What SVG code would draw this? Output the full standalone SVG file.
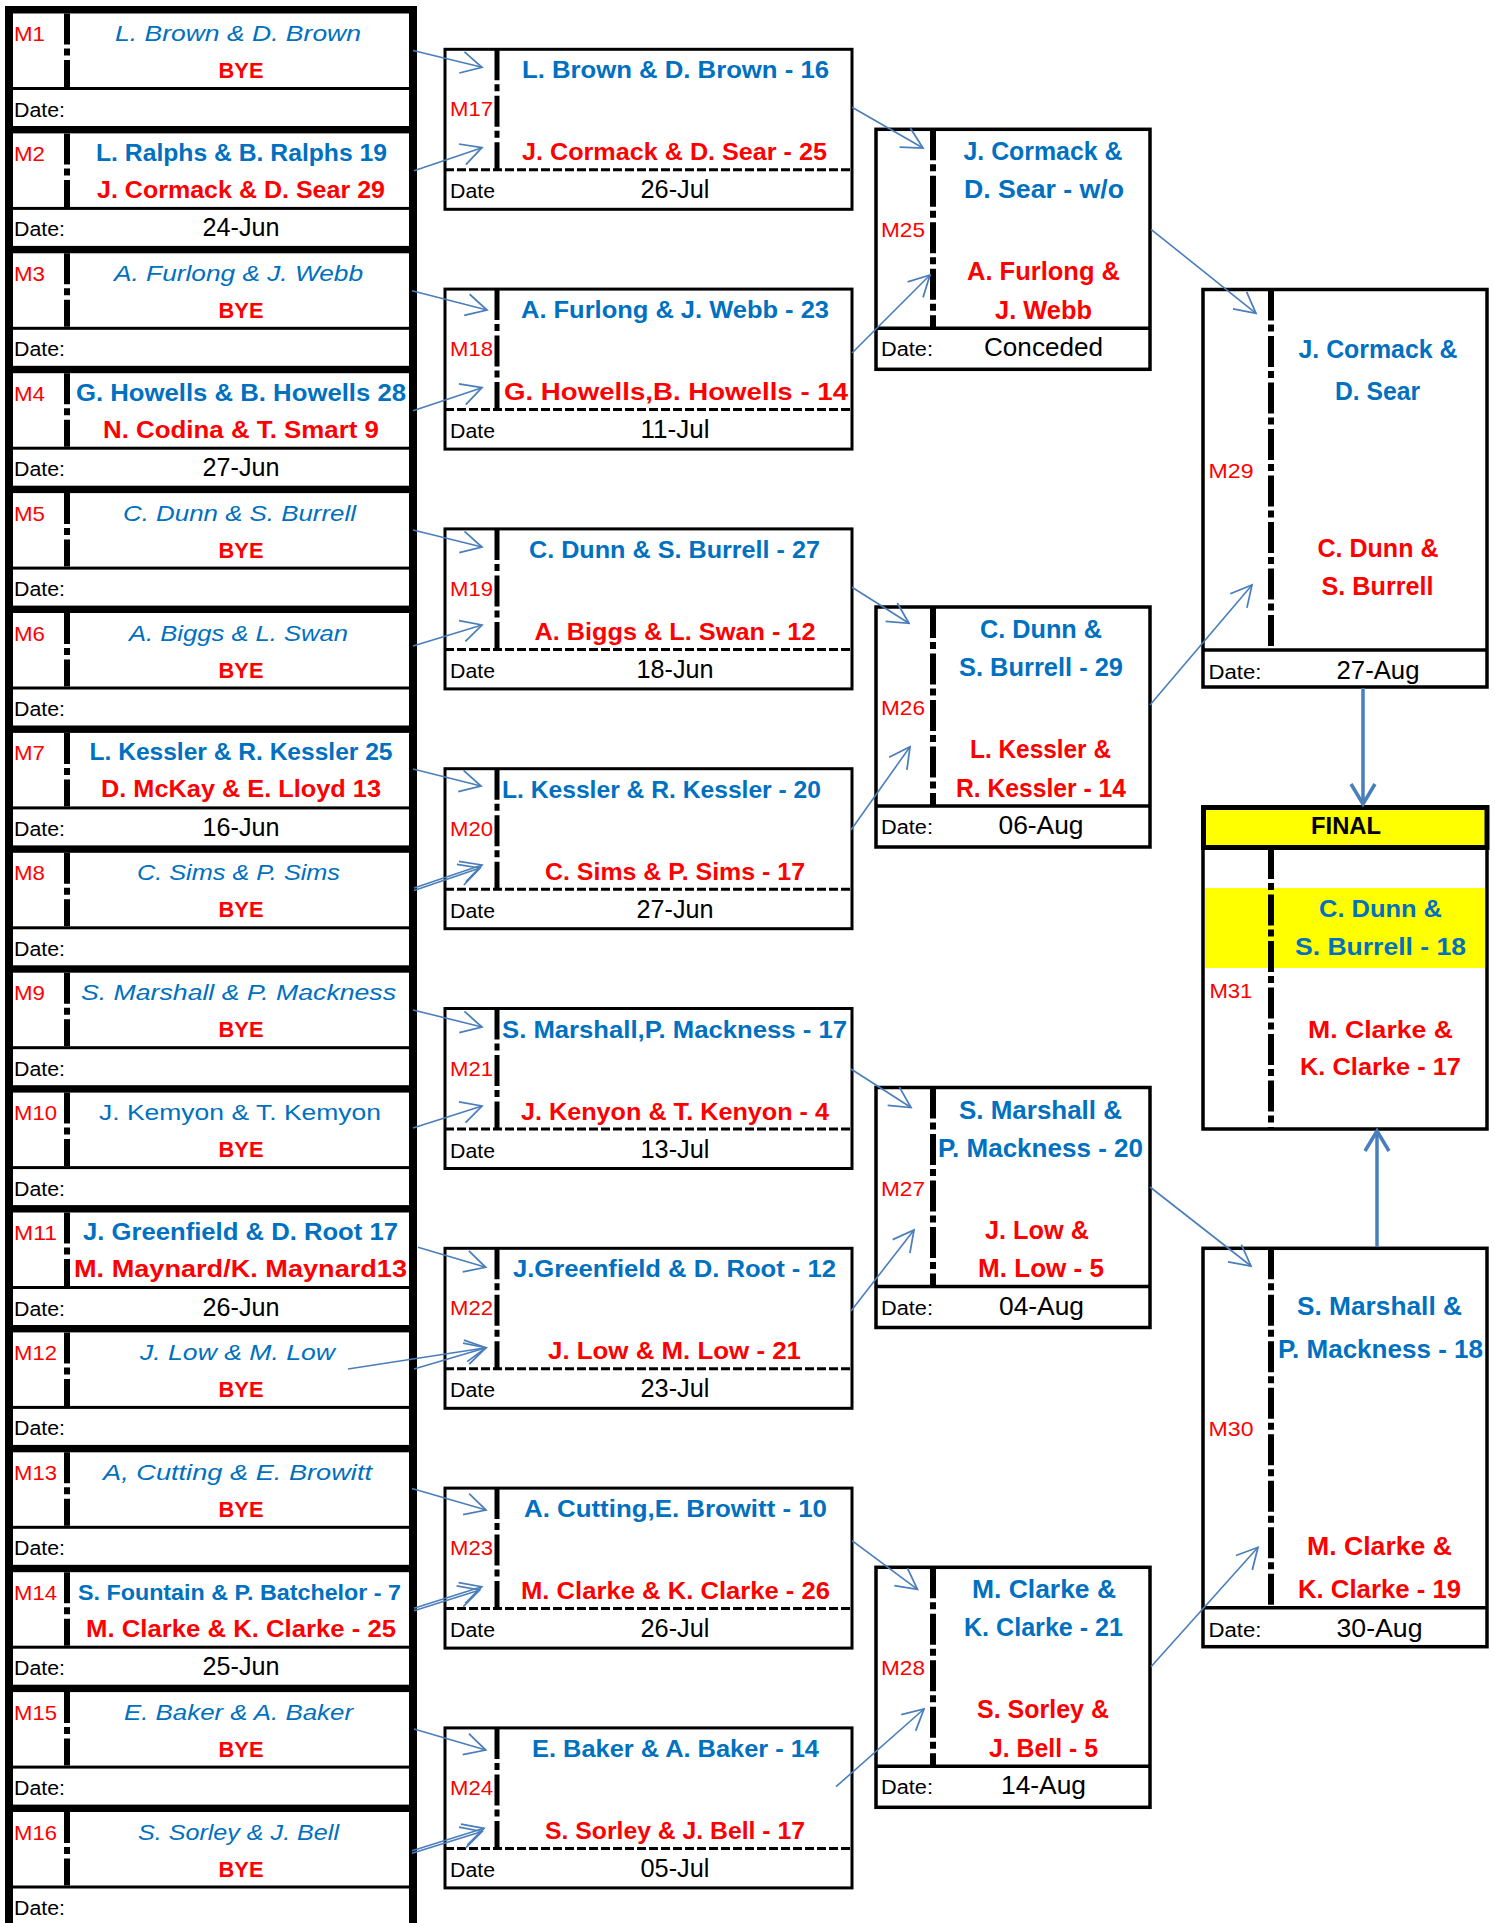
<svg xmlns="http://www.w3.org/2000/svg" width="1495" height="1923" viewBox="0 0 1495 1923">
<style>
text{font-family:"Liberation Sans",Arial,sans-serif}
.lbl{font-size:21px;fill:#FF0000}
.it{font-size:22.5px;font-style:italic;fill:#0070C0}
.nb{font-size:22.5px;fill:#0070C0}
.bb{font-size:24px;font-weight:bold;fill:#0070C0}
.br{font-size:24px;font-weight:bold;fill:#FF0000}
.bye{font-size:22px;font-weight:bold;fill:#FF0000}
.bb3{font-size:26.5px;font-weight:bold;fill:#0070C0}
.br3{font-size:26.5px;font-weight:bold;fill:#FF0000}
.bb4{font-size:25px;font-weight:bold;fill:#0070C0}
.br4{font-size:25px;font-weight:bold;fill:#FF0000}
.fin{font-size:23px;font-weight:bold;fill:#000}
.dl{font-size:19.5px;fill:#000}
.dl3{font-size:20px;fill:#000}
.dv{font-size:25px;fill:#000}
.m{text-anchor:middle}
.cell{fill:#fff}
.dd{stroke:#000;stroke-width:6;stroke-dasharray:31 4 7 4.5;fill:none}
.dd2{stroke:#000;stroke-width:5;stroke-dasharray:31 4 7 4.5;fill:none}
.box{fill:#fff;stroke:#000;stroke-width:3}
.box3{fill:#fff;stroke:#000;stroke-width:3.5}
.sep{stroke:#000;stroke-width:3.5}
.dash{stroke:#000;stroke-width:3;stroke-dasharray:9 3}
.c{stroke:#4A7EBB;stroke-width:1.6;fill:none;marker-end:url(#ah)}
.ct{stroke:#4A7EBB;stroke-width:3.5;fill:none;marker-end:url(#ahT)}
</style>
<defs>
<marker id="ah" markerUnits="userSpaceOnUse" markerWidth="24" markerHeight="24" viewBox="0 0 22 22" refX="20" refY="11" orient="auto"><path d="M1,1 L20,11 L1,21" fill="none" stroke="#4A7EBB" stroke-width="1.6"/></marker>
<marker id="ahT" markerUnits="userSpaceOnUse" markerWidth="30" markerHeight="30" viewBox="0 0 26 30" refX="23" refY="15" orient="auto"><path d="M3,3 L23,15 L3,27" fill="none" stroke="#4A7EBB" stroke-width="3.5"/></marker>
</defs>
<rect width="1495" height="1923" fill="#fff"/>

<g id="round1-frame"><rect x="5" y="6" width="412" height="1920" fill="#000"/></g>

<g id="m1">
<rect class="cell" x="13" y="13.5" width="396" height="73.5"/><rect class="cell" x="13" y="90" width="396" height="36"/>
<line class="dd" x1="67" y1="13.5" x2="67" y2="87"/>
<text class="lbl" x="14" y="41" textLength="31" lengthAdjust="spacingAndGlyphs">M1</text>
<text class="it m" x="238" y="41" textLength="246" lengthAdjust="spacingAndGlyphs">L. Brown &amp; D. Brown</text>
<text class="bye m" x="241" y="78" textLength="45" lengthAdjust="spacingAndGlyphs">BYE</text>
<text class="dl" x="14" y="116.5" textLength="51" lengthAdjust="spacingAndGlyphs">Date:</text>
</g>
<g id="m2">
<rect class="cell" x="13" y="133.4" width="396" height="73.5"/><rect class="cell" x="13" y="209.9" width="396" height="36"/>
<line class="dd" x1="67" y1="133.4" x2="67" y2="206.9"/>
<text class="lbl" x="14" y="160.9" textLength="31" lengthAdjust="spacingAndGlyphs">M2</text>
<text class="bb m" x="241.5" y="160.9" textLength="291" lengthAdjust="spacingAndGlyphs">L. Ralphs &amp; B. Ralphs 19</text>
<text class="br m" x="241" y="197.9" textLength="288" lengthAdjust="spacingAndGlyphs">J. Cormack &amp; D. Sear 29</text>
<text class="dl" x="14" y="236.4" textLength="51" lengthAdjust="spacingAndGlyphs">Date:</text>
<text class="dv m" x="241" y="236.4" textLength="77" lengthAdjust="spacingAndGlyphs">24-Jun</text>
</g>
<g id="m3">
<rect class="cell" x="13" y="253.3" width="396" height="73.5"/><rect class="cell" x="13" y="329.8" width="396" height="36"/>
<line class="dd" x1="67" y1="253.3" x2="67" y2="326.8"/>
<text class="lbl" x="14" y="280.8" textLength="31" lengthAdjust="spacingAndGlyphs">M3</text>
<text class="it m" x="238.5" y="280.8" textLength="249" lengthAdjust="spacingAndGlyphs">A. Furlong &amp; J. Webb</text>
<text class="bye m" x="241" y="317.8" textLength="45" lengthAdjust="spacingAndGlyphs">BYE</text>
<text class="dl" x="14" y="356.3" textLength="51" lengthAdjust="spacingAndGlyphs">Date:</text>
</g>
<g id="m4">
<rect class="cell" x="13" y="373.2" width="396" height="73.5"/><rect class="cell" x="13" y="449.7" width="396" height="36"/>
<line class="dd" x1="67" y1="373.2" x2="67" y2="446.7"/>
<text class="lbl" x="14" y="400.7" textLength="31" lengthAdjust="spacingAndGlyphs">M4</text>
<text class="bb m" x="241" y="400.7" textLength="330" lengthAdjust="spacingAndGlyphs">G. Howells &amp; B. Howells 28</text>
<text class="br m" x="241" y="437.7" textLength="276" lengthAdjust="spacingAndGlyphs">N. Codina &amp; T. Smart 9</text>
<text class="dl" x="14" y="476.2" textLength="51" lengthAdjust="spacingAndGlyphs">Date:</text>
<text class="dv m" x="241" y="476.2" textLength="77" lengthAdjust="spacingAndGlyphs">27-Jun</text>
</g>
<g id="m5">
<rect class="cell" x="13" y="493.1" width="396" height="73.5"/><rect class="cell" x="13" y="569.6" width="396" height="36"/>
<line class="dd" x1="67" y1="493.1" x2="67" y2="566.6"/>
<text class="lbl" x="14" y="520.6" textLength="31" lengthAdjust="spacingAndGlyphs">M5</text>
<text class="it m" x="239.5" y="520.6" textLength="233" lengthAdjust="spacingAndGlyphs">C. Dunn &amp; S. Burrell</text>
<text class="bye m" x="241" y="557.6" textLength="45" lengthAdjust="spacingAndGlyphs">BYE</text>
<text class="dl" x="14" y="596.1" textLength="51" lengthAdjust="spacingAndGlyphs">Date:</text>
</g>
<g id="m6">
<rect class="cell" x="13" y="613" width="396" height="73.5"/><rect class="cell" x="13" y="689.5" width="396" height="36"/>
<line class="dd" x1="67" y1="613" x2="67" y2="686.5"/>
<text class="lbl" x="14" y="640.5" textLength="31" lengthAdjust="spacingAndGlyphs">M6</text>
<text class="it m" x="238.5" y="640.5" textLength="219" lengthAdjust="spacingAndGlyphs">A. Biggs &amp; L. Swan</text>
<text class="bye m" x="241" y="677.5" textLength="45" lengthAdjust="spacingAndGlyphs">BYE</text>
<text class="dl" x="14" y="716" textLength="51" lengthAdjust="spacingAndGlyphs">Date:</text>
</g>
<g id="m7">
<rect class="cell" x="13" y="732.9" width="396" height="73.5"/><rect class="cell" x="13" y="809.4" width="396" height="36"/>
<line class="dd" x1="67" y1="732.9" x2="67" y2="806.4"/>
<text class="lbl" x="14" y="760.4" textLength="31" lengthAdjust="spacingAndGlyphs">M7</text>
<text class="bb m" x="241" y="760.4" textLength="303" lengthAdjust="spacingAndGlyphs">L. Kessler &amp; R. Kessler 25</text>
<text class="br m" x="241" y="797.4" textLength="280" lengthAdjust="spacingAndGlyphs">D. McKay &amp; E. Lloyd 13</text>
<text class="dl" x="14" y="835.9" textLength="51" lengthAdjust="spacingAndGlyphs">Date:</text>
<text class="dv m" x="241" y="835.9" textLength="77" lengthAdjust="spacingAndGlyphs">16-Jun</text>
</g>
<g id="m8">
<rect class="cell" x="13" y="852.8" width="396" height="73.5"/><rect class="cell" x="13" y="929.3" width="396" height="36"/>
<line class="dd" x1="67" y1="852.8" x2="67" y2="926.3"/>
<text class="lbl" x="14" y="880.3" textLength="31" lengthAdjust="spacingAndGlyphs">M8</text>
<text class="it m" x="238.5" y="880.3" textLength="203" lengthAdjust="spacingAndGlyphs">C. Sims &amp; P. Sims</text>
<text class="bye m" x="241" y="917.3" textLength="45" lengthAdjust="spacingAndGlyphs">BYE</text>
<text class="dl" x="14" y="955.8" textLength="51" lengthAdjust="spacingAndGlyphs">Date:</text>
</g>
<g id="m9">
<rect class="cell" x="13" y="972.7" width="396" height="73.5"/><rect class="cell" x="13" y="1049.2" width="396" height="36"/>
<line class="dd" x1="67" y1="972.7" x2="67" y2="1046.2"/>
<text class="lbl" x="14" y="1000.2" textLength="31" lengthAdjust="spacingAndGlyphs">M9</text>
<text class="it m" x="238.5" y="1000.2" textLength="315" lengthAdjust="spacingAndGlyphs">S. Marshall &amp; P. Mackness</text>
<text class="bye m" x="241" y="1037.2" textLength="45" lengthAdjust="spacingAndGlyphs">BYE</text>
<text class="dl" x="14" y="1075.7" textLength="51" lengthAdjust="spacingAndGlyphs">Date:</text>
</g>
<g id="m10">
<rect class="cell" x="13" y="1092.6" width="396" height="73.5"/><rect class="cell" x="13" y="1169.1" width="396" height="36"/>
<line class="dd" x1="67" y1="1092.6" x2="67" y2="1166.1"/>
<text class="lbl" x="14" y="1120.1" textLength="43" lengthAdjust="spacingAndGlyphs">M10</text>
<text class="nb m" x="240" y="1120.1" textLength="282" lengthAdjust="spacingAndGlyphs">J. Kemyon &amp; T. Kemyon</text>
<text class="bye m" x="241" y="1157.1" textLength="45" lengthAdjust="spacingAndGlyphs">BYE</text>
<text class="dl" x="14" y="1195.6" textLength="51" lengthAdjust="spacingAndGlyphs">Date:</text>
</g>
<g id="m11">
<rect class="cell" x="13" y="1212.5" width="396" height="73.5"/><rect class="cell" x="13" y="1289" width="396" height="36"/>
<line class="dd" x1="67" y1="1212.5" x2="67" y2="1286"/>
<text class="lbl" x="14" y="1240" textLength="43" lengthAdjust="spacingAndGlyphs">M11</text>
<text class="bb m" x="240.5" y="1240" textLength="315" lengthAdjust="spacingAndGlyphs">J. Greenfield &amp; D. Root 17</text>
<text class="br m" x="240.5" y="1277" textLength="333" lengthAdjust="spacingAndGlyphs">M. Maynard/K. Maynard13</text>
<text class="dl" x="14" y="1315.5" textLength="51" lengthAdjust="spacingAndGlyphs">Date:</text>
<text class="dv m" x="241" y="1315.5" textLength="77" lengthAdjust="spacingAndGlyphs">26-Jun</text>
</g>
<g id="m12">
<rect class="cell" x="13" y="1332.4" width="396" height="73.5"/><rect class="cell" x="13" y="1408.9" width="396" height="36"/>
<line class="dd" x1="67" y1="1332.4" x2="67" y2="1405.9"/>
<text class="lbl" x="14" y="1359.9" textLength="43" lengthAdjust="spacingAndGlyphs">M12</text>
<text class="it m" x="237.5" y="1359.9" textLength="195" lengthAdjust="spacingAndGlyphs">J. Low &amp; M. Low</text>
<text class="bye m" x="241" y="1396.9" textLength="45" lengthAdjust="spacingAndGlyphs">BYE</text>
<text class="dl" x="14" y="1435.4" textLength="51" lengthAdjust="spacingAndGlyphs">Date:</text>
</g>
<g id="m13">
<rect class="cell" x="13" y="1452.3" width="396" height="73.5"/><rect class="cell" x="13" y="1528.8" width="396" height="36"/>
<line class="dd" x1="67" y1="1452.3" x2="67" y2="1525.8"/>
<text class="lbl" x="14" y="1479.8" textLength="43" lengthAdjust="spacingAndGlyphs">M13</text>
<text class="it m" x="237.5" y="1479.8" textLength="269" lengthAdjust="spacingAndGlyphs">A, Cutting &amp; E. Browitt</text>
<text class="bye m" x="241" y="1516.8" textLength="45" lengthAdjust="spacingAndGlyphs">BYE</text>
<text class="dl" x="14" y="1555.3" textLength="51" lengthAdjust="spacingAndGlyphs">Date:</text>
</g>
<g id="m14">
<rect class="cell" x="13" y="1572.2" width="396" height="73.5"/><rect class="cell" x="13" y="1648.7" width="396" height="36"/>
<line class="dd" x1="67" y1="1572.2" x2="67" y2="1645.7"/>
<text class="lbl" x="14" y="1599.7" textLength="43" lengthAdjust="spacingAndGlyphs">M14</text>
<text class="bb m" x="239.5" y="1599.7" style="font-size:22px" textLength="323" lengthAdjust="spacingAndGlyphs">S. Fountain &amp; P. Batchelor - 7</text>
<text class="br m" x="241" y="1636.7" textLength="310" lengthAdjust="spacingAndGlyphs">M. Clarke &amp; K. Clarke - 25</text>
<text class="dl" x="14" y="1675.2" textLength="51" lengthAdjust="spacingAndGlyphs">Date:</text>
<text class="dv m" x="241" y="1675.2" textLength="77" lengthAdjust="spacingAndGlyphs">25-Jun</text>
</g>
<g id="m15">
<rect class="cell" x="13" y="1692.1" width="396" height="73.5"/><rect class="cell" x="13" y="1768.6" width="396" height="36"/>
<line class="dd" x1="67" y1="1692.1" x2="67" y2="1765.6"/>
<text class="lbl" x="14" y="1719.6" textLength="43" lengthAdjust="spacingAndGlyphs">M15</text>
<text class="it m" x="238.5" y="1719.6" textLength="229" lengthAdjust="spacingAndGlyphs">E. Baker &amp; A. Baker</text>
<text class="bye m" x="241" y="1756.6" textLength="45" lengthAdjust="spacingAndGlyphs">BYE</text>
<text class="dl" x="14" y="1795.1" textLength="51" lengthAdjust="spacingAndGlyphs">Date:</text>
</g>
<g id="m16">
<rect class="cell" x="13" y="1812" width="396" height="73.5"/><rect class="cell" x="13" y="1888.5" width="396" height="40"/>
<line class="dd" x1="67" y1="1812" x2="67" y2="1885.5"/>
<text class="lbl" x="14" y="1839.5" textLength="43" lengthAdjust="spacingAndGlyphs">M16</text>
<text class="it m" x="238.5" y="1839.5" textLength="201" lengthAdjust="spacingAndGlyphs">S. Sorley &amp; J. Bell</text>
<text class="bye m" x="241" y="1876.5" textLength="45" lengthAdjust="spacingAndGlyphs">BYE</text>
<text class="dl" x="14" y="1915" textLength="51" lengthAdjust="spacingAndGlyphs">Date:</text>
</g>

<g id="m17">
<rect class="box" x="445" y="49.3" width="407" height="160"/>
<line class="dash" x1="445" y1="169.8" x2="852" y2="169.8"/>
<line class="dd2" x1="497" y1="49.3" x2="497" y2="169.8"/>
<text class="lbl" x="450" y="116.3" textLength="43" lengthAdjust="spacingAndGlyphs">M17</text>
<text class="bb m" x="675.5" y="78.3" textLength="307" lengthAdjust="spacingAndGlyphs">L. Brown &amp; D. Brown - 16</text>
<text class="br m" x="674.5" y="160.3" textLength="305" lengthAdjust="spacingAndGlyphs">J. Cormack &amp; D. Sear - 25</text>
<text class="dl" x="450" y="198.3" textLength="45" lengthAdjust="spacingAndGlyphs">Date</text>
<text class="dv m" x="675" y="198.3" textLength="69" lengthAdjust="spacingAndGlyphs">26-Jul</text>
</g>
<g id="m18">
<rect class="box" x="445" y="289.1" width="407" height="160"/>
<line class="dash" x1="445" y1="409.6" x2="852" y2="409.6"/>
<line class="dd2" x1="497" y1="289.1" x2="497" y2="409.6"/>
<text class="lbl" x="450" y="356.1" textLength="43" lengthAdjust="spacingAndGlyphs">M18</text>
<text class="bb m" x="675" y="318.1" textLength="308" lengthAdjust="spacingAndGlyphs">A. Furlong &amp; J. Webb - 23</text>
<text class="br m" x="676" y="400.1" textLength="344" lengthAdjust="spacingAndGlyphs">G. Howells,B. Howells - 14</text>
<text class="dl" x="450" y="438.1" textLength="45" lengthAdjust="spacingAndGlyphs">Date</text>
<text class="dv m" x="675" y="438.1" textLength="69" lengthAdjust="spacingAndGlyphs">11-Jul</text>
</g>
<g id="m19">
<rect class="box" x="445" y="528.9" width="407" height="160"/>
<line class="dash" x1="445" y1="649.4" x2="852" y2="649.4"/>
<line class="dd2" x1="497" y1="528.9" x2="497" y2="649.4"/>
<text class="lbl" x="450" y="595.9" textLength="43" lengthAdjust="spacingAndGlyphs">M19</text>
<text class="bb m" x="674.5" y="557.9" textLength="291" lengthAdjust="spacingAndGlyphs">C. Dunn &amp; S. Burrell - 27</text>
<text class="br m" x="675" y="639.9" textLength="281" lengthAdjust="spacingAndGlyphs">A. Biggs  &amp; L. Swan - 12</text>
<text class="dl" x="450" y="677.9" textLength="45" lengthAdjust="spacingAndGlyphs">Date</text>
<text class="dv m" x="675" y="677.9" textLength="77" lengthAdjust="spacingAndGlyphs">18-Jun</text>
</g>
<g id="m20">
<rect class="box" x="445" y="768.7" width="407" height="160"/>
<line class="dash" x1="445" y1="889.2" x2="852" y2="889.2"/>
<line class="dd2" x1="497" y1="768.7" x2="497" y2="889.2"/>
<text class="lbl" x="450" y="835.7" textLength="43" lengthAdjust="spacingAndGlyphs">M20</text>
<text class="bb m" x="661.5" y="797.7" textLength="319" lengthAdjust="spacingAndGlyphs">L. Kessler &amp; R. Kessler - 20</text>
<text class="br m" x="675" y="879.7" textLength="260" lengthAdjust="spacingAndGlyphs">C. Sims &amp; P. Sims - 17</text>
<text class="dl" x="450" y="917.7" textLength="45" lengthAdjust="spacingAndGlyphs">Date</text>
<text class="dv m" x="675" y="917.7" textLength="77" lengthAdjust="spacingAndGlyphs">27-Jun</text>
</g>
<g id="m21">
<rect class="box" x="445" y="1008.5" width="407" height="160"/>
<line class="dash" x1="445" y1="1129" x2="852" y2="1129"/>
<line class="dd2" x1="497" y1="1008.5" x2="497" y2="1129"/>
<text class="lbl" x="450" y="1075.5" textLength="43" lengthAdjust="spacingAndGlyphs">M21</text>
<text class="bb m" x="674.5" y="1037.5" textLength="345" lengthAdjust="spacingAndGlyphs">S. Marshall,P. Mackness - 17</text>
<text class="br m" x="675" y="1119.5" textLength="308" lengthAdjust="spacingAndGlyphs">J. Kenyon &amp; T. Kenyon - 4</text>
<text class="dl" x="450" y="1157.5" textLength="45" lengthAdjust="spacingAndGlyphs">Date</text>
<text class="dv m" x="675" y="1157.5" textLength="69" lengthAdjust="spacingAndGlyphs">13-Jul</text>
</g>
<g id="m22">
<rect class="box" x="445" y="1248.3" width="407" height="160"/>
<line class="dash" x1="445" y1="1368.8" x2="852" y2="1368.8"/>
<line class="dd2" x1="497" y1="1248.3" x2="497" y2="1368.8"/>
<text class="lbl" x="450" y="1315.3" textLength="43" lengthAdjust="spacingAndGlyphs">M22</text>
<text class="bb m" x="674.5" y="1277.3" textLength="323" lengthAdjust="spacingAndGlyphs">J.Greenfield &amp; D. Root - 12</text>
<text class="br m" x="674.5" y="1359.3" textLength="253" lengthAdjust="spacingAndGlyphs">J. Low &amp; M. Low - 21</text>
<text class="dl" x="450" y="1397.3" textLength="45" lengthAdjust="spacingAndGlyphs">Date</text>
<text class="dv m" x="675" y="1397.3" textLength="69" lengthAdjust="spacingAndGlyphs">23-Jul</text>
</g>
<g id="m23">
<rect class="box" x="445" y="1488.1" width="407" height="160"/>
<line class="dash" x1="445" y1="1608.6" x2="852" y2="1608.6"/>
<line class="dd2" x1="497" y1="1488.1" x2="497" y2="1608.6"/>
<text class="lbl" x="450" y="1555.1" textLength="43" lengthAdjust="spacingAndGlyphs">M23</text>
<text class="bb m" x="675.5" y="1517.1" textLength="303" lengthAdjust="spacingAndGlyphs">A. Cutting,E. Browitt - 10</text>
<text class="br m" x="675.5" y="1599.1" textLength="309" lengthAdjust="spacingAndGlyphs">M. Clarke &amp; K. Clarke - 26</text>
<text class="dl" x="450" y="1637.1" textLength="45" lengthAdjust="spacingAndGlyphs">Date</text>
<text class="dv m" x="675" y="1637.1" textLength="69" lengthAdjust="spacingAndGlyphs">26-Jul</text>
</g>
<g id="m24">
<rect class="box" x="445" y="1727.9" width="407" height="160"/>
<line class="dash" x1="445" y1="1848.4" x2="852" y2="1848.4"/>
<line class="dd2" x1="497" y1="1727.9" x2="497" y2="1848.4"/>
<text class="lbl" x="450" y="1794.9" textLength="43" lengthAdjust="spacingAndGlyphs">M24</text>
<text class="bb m" x="675.5" y="1756.9" textLength="287" lengthAdjust="spacingAndGlyphs">E. Baker &amp; A. Baker - 14</text>
<text class="br m" x="675" y="1838.9" textLength="260" lengthAdjust="spacingAndGlyphs">S. Sorley &amp; J. Bell - 17</text>
<text class="dl" x="450" y="1876.9" textLength="45" lengthAdjust="spacingAndGlyphs">Date</text>
<text class="dv m" x="675" y="1876.9" textLength="69" lengthAdjust="spacingAndGlyphs">05-Jul</text>
</g>

<g id="m25">
<rect class="box3" x="876" y="129.3" width="274" height="240"/>
<line class="sep" x1="876" y1="328.3" x2="1150" y2="328.3"/>
<line class="dd" x1="933" y1="129.3" x2="933" y2="328.3"/>
<text class="lbl" x="881" y="237.3" textLength="44" lengthAdjust="spacingAndGlyphs">M25</text>
<text class="bb3 m" x="1043" y="160.3" textLength="159" lengthAdjust="spacingAndGlyphs">J. Cormack &amp;</text>
<text class="bb3 m" x="1044" y="198.3" textLength="160" lengthAdjust="spacingAndGlyphs">D. Sear - w/o</text>
<text class="br3 m" x="1043.5" y="280.3" textLength="153" lengthAdjust="spacingAndGlyphs">A. Furlong &amp;</text>
<text class="br3 m" x="1043.5" y="318.8" textLength="97" lengthAdjust="spacingAndGlyphs">J. Webb</text>
<text class="dl3" x="881" y="356.3" textLength="52" lengthAdjust="spacingAndGlyphs">Date:</text>
<text class="dv m" x="1043.5" y="356.3" textLength="119" lengthAdjust="spacingAndGlyphs">Conceded</text>
</g>
<g id="m26">
<rect class="box3" x="876" y="607" width="274" height="240"/>
<line class="sep" x1="876" y1="806" x2="1150" y2="806"/>
<line class="dd" x1="933" y1="607" x2="933" y2="806"/>
<text class="lbl" x="881" y="715" textLength="44" lengthAdjust="spacingAndGlyphs">M26</text>
<text class="bb3 m" x="1041" y="638" textLength="122" lengthAdjust="spacingAndGlyphs">C. Dunn &amp;</text>
<text class="bb3 m" x="1041" y="676" textLength="164" lengthAdjust="spacingAndGlyphs">S. Burrell - 29</text>
<text class="br3 m" x="1040.5" y="758" textLength="141" lengthAdjust="spacingAndGlyphs">L. Kessler &amp;</text>
<text class="br3 m" x="1041" y="796.5" textLength="170" lengthAdjust="spacingAndGlyphs">R. Kessler - 14</text>
<text class="dl3" x="881" y="834" textLength="52" lengthAdjust="spacingAndGlyphs">Date:</text>
<text class="dv m" x="1041" y="834" textLength="85" lengthAdjust="spacingAndGlyphs">06-Aug</text>
</g>
<g id="m27">
<rect class="box3" x="876" y="1087.5" width="274" height="240"/>
<line class="sep" x1="876" y1="1286.5" x2="1150" y2="1286.5"/>
<line class="dd" x1="933" y1="1087.5" x2="933" y2="1286.5"/>
<text class="lbl" x="881" y="1195.5" textLength="44" lengthAdjust="spacingAndGlyphs">M27</text>
<text class="bb3 m" x="1040.5" y="1118.5" textLength="163" lengthAdjust="spacingAndGlyphs">S. Marshall &amp;</text>
<text class="bb3 m" x="1040.5" y="1156.5" textLength="205" lengthAdjust="spacingAndGlyphs">P. Mackness - 20</text>
<text class="br3 m" x="1037" y="1238.5" textLength="104" lengthAdjust="spacingAndGlyphs">J. Low &amp;</text>
<text class="br3 m" x="1041" y="1277" textLength="126" lengthAdjust="spacingAndGlyphs">M. Low - 5</text>
<text class="dl3" x="881" y="1314.5" textLength="52" lengthAdjust="spacingAndGlyphs">Date:</text>
<text class="dv m" x="1041.5" y="1314.5" textLength="85" lengthAdjust="spacingAndGlyphs">04-Aug</text>
</g>
<g id="m28">
<rect class="box3" x="876" y="1567.3" width="274" height="240"/>
<line class="sep" x1="876" y1="1766.3" x2="1150" y2="1766.3"/>
<line class="dd" x1="933" y1="1567.3" x2="933" y2="1766.3"/>
<text class="lbl" x="881" y="1675.3" textLength="44" lengthAdjust="spacingAndGlyphs">M28</text>
<text class="bb3 m" x="1044" y="1598.3" textLength="144" lengthAdjust="spacingAndGlyphs">M. Clarke &amp;</text>
<text class="bb3 m" x="1043.5" y="1636.3" textLength="159" lengthAdjust="spacingAndGlyphs">K. Clarke - 21</text>
<text class="br3 m" x="1043" y="1718.3" textLength="132" lengthAdjust="spacingAndGlyphs">S. Sorley &amp;</text>
<text class="br3 m" x="1043.5" y="1756.8" textLength="109" lengthAdjust="spacingAndGlyphs">J. Bell - 5</text>
<text class="dl3" x="881" y="1794.3" textLength="52" lengthAdjust="spacingAndGlyphs">Date:</text>
<text class="dv m" x="1043.5" y="1794.3" textLength="85" lengthAdjust="spacingAndGlyphs">14-Aug</text>
</g>

<g id="m29">
<rect class="box3" x="1203" y="289.5" width="284" height="397.5"/>
<line class="sep" x1="1203" y1="650" x2="1487" y2="650"/>
<line class="dd" x1="1271" y1="289.5" x2="1271" y2="650"/>
<text class="lbl" x="1208.5" y="477.5" textLength="45" lengthAdjust="spacingAndGlyphs">M29</text>
<text class="bb4 m" x="1378" y="357.5" textLength="159" lengthAdjust="spacingAndGlyphs">J. Cormack &amp;</text>
<text class="bb4 m" x="1377.5" y="399.5" textLength="85" lengthAdjust="spacingAndGlyphs">D. Sear</text>
<text class="br4 m" x="1378" y="556.5" textLength="121" lengthAdjust="spacingAndGlyphs">C. Dunn &amp;</text>
<text class="br4 m" x="1377.5" y="594.5" textLength="112" lengthAdjust="spacingAndGlyphs">S. Burrell</text>
<text class="dl3" x="1208.5" y="678.5" textLength="53" lengthAdjust="spacingAndGlyphs">Date:</text>
<text class="dv m" x="1378" y="678.5" textLength="83" lengthAdjust="spacingAndGlyphs">27-Aug</text>
</g>
<g id="m30">
<rect class="box3" x="1203" y="1248.3" width="284" height="398.4"/>
<line class="sep" x1="1203" y1="1607.7" x2="1487" y2="1607.7"/>
<line class="dd" x1="1271" y1="1248.3" x2="1271" y2="1607.7"/>
<text class="lbl" x="1208.5" y="1436" textLength="45" lengthAdjust="spacingAndGlyphs">M30</text>
<text class="bb4 m" x="1379.5" y="1315" textLength="165" lengthAdjust="spacingAndGlyphs">S. Marshall &amp;</text>
<text class="bb4 m" x="1380.5" y="1358.3" textLength="205" lengthAdjust="spacingAndGlyphs">P. Mackness - 18</text>
<text class="br4 m" x="1379.5" y="1555" textLength="145" lengthAdjust="spacingAndGlyphs">M. Clarke &amp;</text>
<text class="br4 m" x="1379.5" y="1597.7" textLength="163" lengthAdjust="spacingAndGlyphs">K. Clarke - 19</text>
<text class="dl3" x="1208.5" y="1637.3" textLength="53" lengthAdjust="spacingAndGlyphs">Date:</text>
<text class="dv m" x="1379.5" y="1637.3" textLength="86" lengthAdjust="spacingAndGlyphs">30-Aug</text>
</g>

<g id="m31">
<rect x="1203" y="848" width="284" height="281" fill="#fff"/>
<rect x="1205" y="888" width="280" height="80" fill="#FFFF00"/>
<rect x="1203" y="848" width="284" height="281" fill="none" stroke="#000" stroke-width="3.5"/>
<line class="dd" x1="1271" y1="848" x2="1271" y2="1129"/>
<rect x="1203.5" y="807.5" width="283.5" height="40" fill="#FFFF00" stroke="#000" stroke-width="5"/>
<text class="fin m" x="1346" y="834.3" textLength="70" lengthAdjust="spacingAndGlyphs">FINAL</text>
<text class="lbl" x="1209.4" y="998.3" textLength="43" lengthAdjust="spacingAndGlyphs">M31</text>
<text class="bb m" x="1380.5" y="917.3" textLength="123" lengthAdjust="spacingAndGlyphs">C. Dunn &amp;</text>
<text class="bb m" x="1380.5" y="955" textLength="171" lengthAdjust="spacingAndGlyphs">S. Burrell  - 18</text>
<text class="br m" x="1380.5" y="1038.3" textLength="145" lengthAdjust="spacingAndGlyphs">M. Clarke &amp;</text>
<text class="br m" x="1380.5" y="1075" textLength="161" lengthAdjust="spacingAndGlyphs">K. Clarke - 17</text>
</g>

<g id="connectors">
<line class="c" x1="413" y1="50.5" x2="482" y2="67.3"/>
<line class="c" x1="414" y1="170.7" x2="482" y2="147.7"/>
<line class="c" x1="412" y1="290.7" x2="487" y2="310"/>
<line class="c" x1="413" y1="410.7" x2="482" y2="387.7"/>
<line class="c" x1="413" y1="530" x2="482" y2="547"/>
<line class="c" x1="413" y1="646" x2="482" y2="625"/>
<line class="c" x1="413" y1="769" x2="481" y2="786"/>
<line class="c" x1="414" y1="888" x2="482" y2="865"/>
<line class="c" x1="414" y1="890.5" x2="480" y2="868"/>
<line class="c" x1="413" y1="1010" x2="482" y2="1027"/>
<line class="c" x1="413" y1="1128" x2="482" y2="1106"/>
<line class="c" x1="418" y1="1247.3" x2="485.7" y2="1267.3"/>
<line class="c" x1="348" y1="1369" x2="486" y2="1347.7"/>
<line class="c" x1="414" y1="1369" x2="486" y2="1347.7"/>
<line class="c" x1="412" y1="1488.5" x2="486" y2="1510"/>
<line class="c" x1="414" y1="1608.3" x2="481.7" y2="1586.7"/>
<line class="c" x1="414" y1="1610.8" x2="479.7" y2="1590"/>
<line class="c" x1="414" y1="1729" x2="485.7" y2="1750"/>
<line class="c" x1="412" y1="1850.7" x2="484" y2="1828.3"/>
<line class="c" x1="412" y1="1853.2" x2="482" y2="1831.5"/>
<line class="c" x1="852" y1="107.3" x2="923" y2="148"/>
<line class="c" x1="852" y1="353" x2="930" y2="275"/>
<line class="c" x1="852" y1="587.3" x2="909" y2="623.3"/>
<line class="c" x1="851" y1="830" x2="910" y2="746.7"/>
<line class="c" x1="851" y1="1069" x2="911" y2="1107.5"/>
<line class="c" x1="851" y1="1311" x2="914" y2="1230"/>
<line class="c" x1="852" y1="1540.7" x2="917.5" y2="1589.3"/>
<line class="c" x1="836" y1="1786.7" x2="924" y2="1709"/>
<line class="c" x1="1151" y1="229.3" x2="1256" y2="313.3"/>
<line class="c" x1="1150" y1="705" x2="1252" y2="585"/>
<line class="c" x1="1150" y1="1187" x2="1251" y2="1266"/>
<line class="c" x1="1151" y1="1666.7" x2="1258" y2="1547.3"/>
<line class="ct" x1="1363" y1="688" x2="1363" y2="804"/>
<line class="ct" x1="1377" y1="1247" x2="1377" y2="1131"/>
</g>
</svg>
